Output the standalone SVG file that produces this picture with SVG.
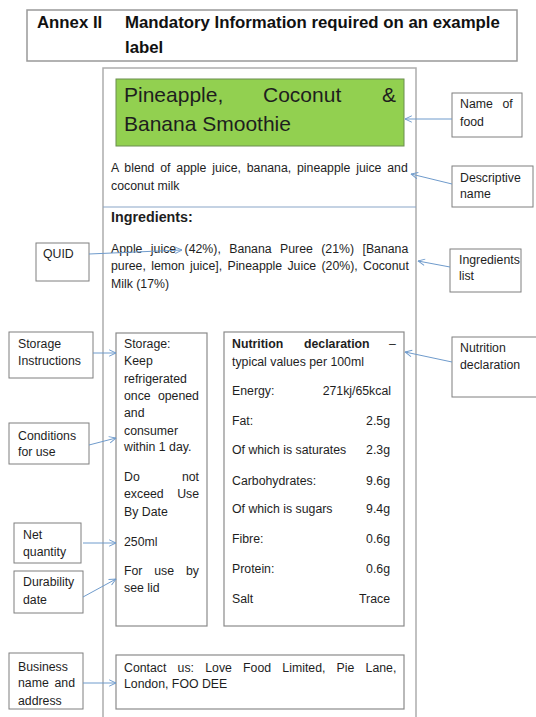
<svg xmlns="http://www.w3.org/2000/svg" width="536" height="717" viewBox="0 0 536 717">
<defs>
<marker id="ah" viewBox="0 0 10 10" refX="9.5" refY="5" markerWidth="8" markerHeight="8" markerUnits="userSpaceOnUse" orient="auto"><path d="M1,1 L9.5,5 L1,9" fill="none" stroke="#6f9bcc" stroke-width="1.2"/></marker>
</defs>
<style>
text{font-family:"Liberation Sans",Arial,sans-serif;fill:#1e1e1e;font-size:12.3px}
.box{fill:#fff;stroke:#7f7f7f;stroke-width:1}
.ibox{fill:none;stroke:#8a8a8a;stroke-width:1.2}
.conn{stroke:#6f9bcc;stroke-width:1;fill:none;marker-end:url(#ah)}
.b{font-weight:bold}
.r{text-anchor:end}
.h{font-weight:bold;font-size:16.8px;fill:#111}
</style>
<rect width="536" height="717" fill="#fff"/>

<g id="title">
<rect x="27" y="10" width="490" height="51" fill="#fff" stroke="#999" stroke-width="1.5"/>
<text class="h" x="37" y="28">Annex II</text>
<text class="h" x="125" y="28">Mandatory Information required on an example</text>
<text class="h" x="125" y="53">label</text>
</g>

<g id="label">
<rect x="103" y="68" width="313" height="670" fill="none" stroke="#adadad" stroke-width="1.5"/>
<line x1="103" y1="207" x2="416" y2="207" stroke="#8aa6c8" stroke-width="1.2"/>
</g>

<g id="food-name">
<rect x="116" y="79" width="288" height="67" fill="#92d050" stroke="#6b8e4e" stroke-width="1"/>
<text style="font-size:21px" y="102"><tspan x="124">Pineapple,</tspan><tspan x="263">Coconut</tspan><tspan x="382">&amp;</tspan></text>
<text style="font-size:21px" x="124" y="131">Banana Smoothie</text>
</g>

<g id="description">
<text x="111" y="172" word-spacing="2.4">A blend of apple juice, banana, pineapple juice and</text>
<text x="111" y="190">coconut milk</text>
</g>

<g id="ingredients">
<text class="b" style="font-size:14.3px" x="111" y="222">Ingredients:</text>
<text x="111" y="253" word-spacing="5">Apple juice (42%), Banana Puree (21%) [Banana</text>
<text x="111" y="270" word-spacing="1.9">puree, lemon juice], Pineapple Juice (20%), Coconut</text>
<text x="111" y="288">Milk (17%)</text>
</g>

<g id="storage">
<rect class="ibox" x="116" y="333" width="91" height="293"/>
<text x="124" y="348">Storage:</text>
<text x="124" y="365">Keep</text>
<text x="124" y="383">refrigerated</text>
<text x="124" y="400" word-spacing="3.8">once opened</text>
<text x="124" y="417">and</text>
<text x="124" y="435">consumer</text>
<text x="124" y="451">within 1 day.</text>
<text x="124" y="481">Do</text>
<text class="r" x="199" y="481">not</text>
<text x="124" y="498">exceed</text>
<text class="r" x="199" y="498">Use</text>
<text x="124" y="516">By Date</text>
<text x="124" y="546">250ml</text>
<text x="124" y="575" word-spacing="8.4">For use by</text>
<text x="124" y="592">see lid</text>
</g>

<g id="nutrition">
<rect class="ibox" x="224" y="332" width="180" height="294"/>
<text y="348"><tspan class="b" x="232">Nutrition</tspan><tspan class="b" x="304">declaration</tspan><tspan x="389">–</tspan></text>
<text x="232" y="366">typical values per 100ml</text>
<text x="232" y="395">Energy:</text><text class="r" x="391" y="395">271kj/65kcal</text>
<text x="232" y="425">Fat:</text><text class="r" x="390" y="425">2.5g</text>
<text x="232" y="454">Of which is saturates</text><text class="r" x="390" y="454">2.3g</text>
<text x="232" y="485">Carbohydrates:</text><text class="r" x="390" y="485">9.6g</text>
<text x="232" y="513">Of which is sugars</text><text class="r" x="390" y="513">9.4g</text>
<text x="232" y="543">Fibre:</text><text class="r" x="390" y="543">0.6g</text>
<text x="232" y="573">Protein:</text><text class="r" x="390" y="573">0.6g</text>
<text x="232" y="603">Salt</text><text class="r" x="390" y="603">Trace</text>
</g>

<g id="contact">
<rect class="ibox" x="116" y="655" width="288" height="54"/>
<text x="124" y="672" word-spacing="7.8">Contact us: Love Food Limited, Pie Lane,</text>
<text x="124" y="688">London, FOO DEE</text>
</g>

<g id="lbl-name-of-food">
<rect class="box" x="452" y="93" width="70" height="44"/>
<text x="460" y="108" word-spacing="6.3">Name of</text>
<text x="460" y="126">food</text>
</g>

<g id="lbl-descriptive-name">
<rect class="box" x="452" y="166" width="81" height="41"/>
<text x="460" y="182">Descriptive</text>
<text x="460" y="198">name</text>
</g>

<g id="lbl-quid">
<rect class="box" x="36" y="243" width="53" height="38"/>
<text x="43" y="258">QUID</text>
</g>

<g id="lbl-ingredients-list">
<rect class="box" x="450" y="249" width="71" height="43"/>
<text x="459" y="264">Ingredients</text>
<text x="459" y="280">list</text>
</g>

<g id="lbl-storage-instructions">
<rect class="box" x="9" y="332" width="84" height="46"/>
<text x="18" y="348">Storage</text>
<text x="18" y="365">Instructions</text>
</g>

<g id="lbl-conditions">
<rect class="box" x="9" y="423" width="80" height="41"/>
<text x="18" y="440">Conditions</text>
<text x="18" y="456">for use</text>
</g>

<g id="lbl-nutrition-declaration">
<rect class="box" x="452" y="337" width="90" height="60"/>
<text x="460" y="352">Nutrition</text>
<text x="460" y="369">declaration</text>
</g>

<g id="lbl-net-quantity">
<rect class="box" x="14" y="523" width="67" height="40"/>
<text x="23" y="539">Net</text>
<text x="23" y="556">quantity</text>
</g>

<g id="lbl-durability">
<rect class="box" x="14" y="571" width="69" height="42"/>
<text x="23" y="586">Durability</text>
<text x="23" y="604">date</text>
</g>

<g id="lbl-business">
<rect class="box" x="9" y="653" width="74" height="56"/>
<text x="18" y="671">Business</text>
<text x="18" y="687" word-spacing="2.3">name and</text>
<text x="18" y="705">address</text>
</g>

<g id="connectors">
<line class="conn" x1="452" y1="119" x2="405" y2="119"/>
<line class="conn" x1="452" y1="184" x2="411" y2="174"/>
<line class="conn" x1="89" y1="254" x2="182" y2="250"/>
<line class="conn" x1="450" y1="267" x2="418" y2="261"/>
<line class="conn" x1="93" y1="353" x2="116" y2="353"/>
<line class="conn" x1="89" y1="445" x2="116" y2="438"/>
<line class="conn" x1="452" y1="362" x2="405" y2="352"/>
<line class="conn" x1="83" y1="543" x2="116" y2="543"/>
<line class="conn" x1="83" y1="597" x2="116" y2="579"/>
<line class="conn" x1="83" y1="683" x2="116" y2="683"/>
</g>
</svg>
